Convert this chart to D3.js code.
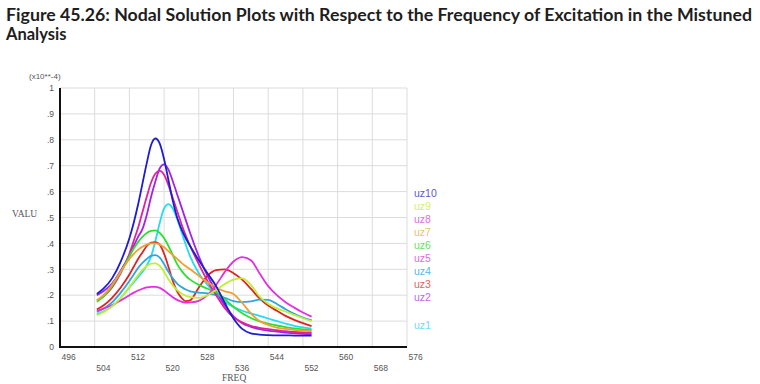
<!DOCTYPE html>
<html><head><meta charset="utf-8">
<script src="https://cdn.jsdelivr.net/npm/d3@7"></script>
<style>html,body{margin:0;padding:0;background:#fff;}svg{display:block;}</style>
</head><body>
<svg id="chart" width="760" height="384"></svg>
<script>
const title1 = "Figure 45.26: Nodal Solution Plots with Respect to the Frequency of Excitation in the Mistuned";
const title2 = "Analysis";
const freqs = [504.5,506,508,510,512,513,514,515,516,517,518,519,520,521,522,523,524,525,526,528,530,532,534,536,538,540,542,544,546,548,550,552,554];
const uz1  = [0.127,0.137,0.157,0.19,0.23,0.25,0.27,0.29,0.315,0.35,0.41,0.48,0.535,0.552,0.535,0.495,0.445,0.395,0.35,0.285,0.24,0.205,0.175,0.155,0.14,0.13,0.12,0.11,0.10,0.09,0.082,0.076,0.071];
const uz2  = [0.20,0.215,0.245,0.295,0.355,0.39,0.425,0.455,0.51,0.58,0.64,0.69,0.705,0.685,0.64,0.59,0.54,0.49,0.44,0.35,0.275,0.215,0.16,0.118,0.092,0.078,0.069,0.063,0.059,0.056,0.053,0.051,0.05];
const uz3  = [0.145,0.16,0.19,0.23,0.28,0.31,0.34,0.365,0.39,0.403,0.405,0.395,0.36,0.31,0.255,0.215,0.19,0.177,0.18,0.23,0.275,0.297,0.3,0.285,0.26,0.225,0.188,0.16,0.14,0.12,0.105,0.092,0.081];
const uz4  = [0.135,0.148,0.172,0.21,0.255,0.28,0.305,0.325,0.34,0.352,0.355,0.345,0.32,0.29,0.265,0.245,0.232,0.222,0.215,0.21,0.207,0.20,0.19,0.177,0.173,0.176,0.183,0.182,0.166,0.146,0.128,0.114,0.104];
const uz5  = [0.18,0.195,0.23,0.285,0.36,0.41,0.46,0.52,0.58,0.635,0.67,0.68,0.665,0.625,0.575,0.525,0.475,0.43,0.39,0.32,0.255,0.20,0.15,0.115,0.095,0.082,0.074,0.069,0.065,0.061,0.058,0.056,0.055];
const uz6  = [0.175,0.195,0.235,0.29,0.35,0.38,0.405,0.425,0.44,0.448,0.45,0.44,0.42,0.39,0.355,0.32,0.295,0.275,0.26,0.24,0.225,0.212,0.185,0.155,0.13,0.112,0.099,0.09,0.083,0.077,0.072,0.068,0.065];
const uz7  = [0.18,0.20,0.24,0.29,0.34,0.36,0.375,0.387,0.395,0.40,0.40,0.395,0.385,0.37,0.355,0.34,0.325,0.312,0.30,0.275,0.25,0.23,0.215,0.205,0.17,0.13,0.10,0.085,0.075,0.07,0.066,0.063,0.061];
const uz8  = [0.14,0.148,0.162,0.18,0.20,0.21,0.218,0.225,0.23,0.232,0.232,0.228,0.218,0.205,0.192,0.182,0.175,0.171,0.172,0.178,0.2,0.24,0.29,0.33,0.347,0.335,0.285,0.235,0.2,0.173,0.152,0.133,0.117];
const uz9  = [0.123,0.134,0.158,0.19,0.232,0.255,0.278,0.298,0.313,0.322,0.323,0.313,0.29,0.262,0.238,0.22,0.207,0.198,0.193,0.19,0.20,0.22,0.243,0.26,0.265,0.24,0.195,0.167,0.149,0.137,0.124,0.111,0.10];
const uz10 = [0.205,0.225,0.265,0.33,0.42,0.48,0.55,0.63,0.71,0.78,0.805,0.785,0.725,0.645,0.565,0.50,0.455,0.42,0.39,0.335,0.285,0.235,0.17,0.11,0.07,0.053,0.048,0.046,0.045,0.045,0.044,0.044,0.044];
const seriesNames = ["uz1","uz2","uz3","uz4","uz5","uz6","uz7","uz8","uz9","uz10"];
const seriesValues = [uz1,uz2,uz3,uz4,uz5,uz6,uz7,uz8,uz9,uz10];
const lineColors = ["#22dcef","#a024e6","#e02222","#2fa6e0","#e0209c","#2ee02e","#f0a030","#e030e0","#bef032","#1c1cd2"];
const legendColors = ["#66e2f0","#b86ae2","#e26464","#5ab8e2","#e06cd2","#66e066","#e8c07a","#e06ce8","#d6ee72","#5a5ad6"];
const xTicks = [496,504,512,520,528,536,544,552,560,568,576];
const yTicks = [0,0.1,0.2,0.3,0.4,0.5,0.6,0.7,0.8,0.9,1];
const yTickLabels = ["0",".1",".2",".3",".4",".5",".6",".7",".8",".9","1"];

const svg = d3.select("#chart");
const x = d3.scaleLinear().domain([496,576]).range([60,407]);
const y = d3.scaleLinear().domain([0,1]).range([347,88]);

// title
const t = svg.append("g").attr("font-family","Lato, 'Open Sans', sans-serif").attr("font-weight","bold").attr("fill","#1e1e1e").attr("font-size","16.5px");
t.append("text").attr("x",6).attr("y",21).text(title1).attr("textLength",746).attr("lengthAdjust","spacingAndGlyphs");
t.append("text").attr("x",6).attr("y",40).text(title2);

// grid
const grid = svg.append("g").attr("stroke","#dcdcdc").attr("stroke-width",1);
grid.selectAll(".vx").data(xTicks).join("line")
  .attr("x1",d=>x(d)).attr("x2",d=>x(d)).attr("y1",y(1)).attr("y2",y(0));
grid.selectAll(".hy").data(yTicks).join("line")
  .attr("x1",x(496)).attr("x2",x(576)).attr("y1",d=>y(d)).attr("y2",d=>y(d));

// axes (D3 axes for tick labels)
const yAxis = d3.axisLeft(y).tickValues(yTicks).tickSize(0).tickPadding(6).tickFormat((d,i)=>yTickLabels[i]);
const gy = svg.append("g").attr("transform",`translate(${x(496)},0)`).call(yAxis);
gy.select(".domain").remove();
gy.selectAll("text").attr("font-family","'Liberation Sans', Arial, sans-serif").attr("font-size","8.5px").attr("fill","#555");

const xAxis = d3.axisBottom(x).tickValues(xTicks).tickSize(0).tickFormat(d3.format("d"));
const gx = svg.append("g").attr("transform",`translate(0,${y(0)})`).call(xAxis);
gx.select(".domain").remove();
gx.selectAll("text").attr("font-family","'Liberation Sans', Arial, sans-serif").attr("font-size","8.5px").attr("fill","#555")
  .attr("text-anchor","start").attr("dx",1)
  .attr("y",(d,i)=> i%2===0 ? 7 : 18).attr("dy","0.71em");

// axis lines
svg.append("line").attr("x1",x(496)).attr("x2",x(496)).attr("y1",y(1)).attr("y2",y(0)+1).attr("stroke","#111").attr("stroke-width",2);
svg.append("line").attr("x1",x(496)-1).attr("x2",x(576)).attr("y1",y(0)).attr("y2",y(0)).attr("stroke","#111").attr("stroke-width",2);

// labels
svg.append("text").attr("x",29).attr("y",79).text("(x10**-4)").attr("font-family","'Liberation Sans', Arial, sans-serif").attr("font-size","8px").attr("fill","#555");
svg.append("text").attr("x",12).attr("y",217).text("VALU").attr("font-family","'Liberation Serif', 'Times New Roman', serif").attr("font-size","9.5px").attr("fill","#555");
svg.append("text").attr("x",222).attr("y",381).text("FREQ").attr("font-family","'Liberation Serif', 'Times New Roman', serif").attr("font-size","9.5px").attr("fill","#555");

// lines
const line = d3.line().x((d,i)=>x(freqs[i])).y(d=>y(d)).curve(d3.curveMonotoneX);
svg.append("g").selectAll("path").data(seriesValues).join("path")
  .attr("d",d=>line(d)).attr("fill","none")
  .attr("stroke",(d,i)=>lineColors[i]).attr("stroke-width",1.8);

// legend
const legendY = {uz10:193,uz9:206,uz8:219,uz7:232,uz6:245,uz5:258,uz4:271,uz3:284,uz2:297,uz1:325};
svg.append("g").selectAll("text").data(seriesNames).join("text")
  .attr("x",414).attr("y",d=>legendY[d]).attr("dy","0.35em")
  .attr("font-family","'Liberation Sans', Arial, sans-serif").attr("font-size","10.5px")
  .attr("fill",(d,i)=>legendColors[i]).text(d=>d);
</script>
</body></html>
